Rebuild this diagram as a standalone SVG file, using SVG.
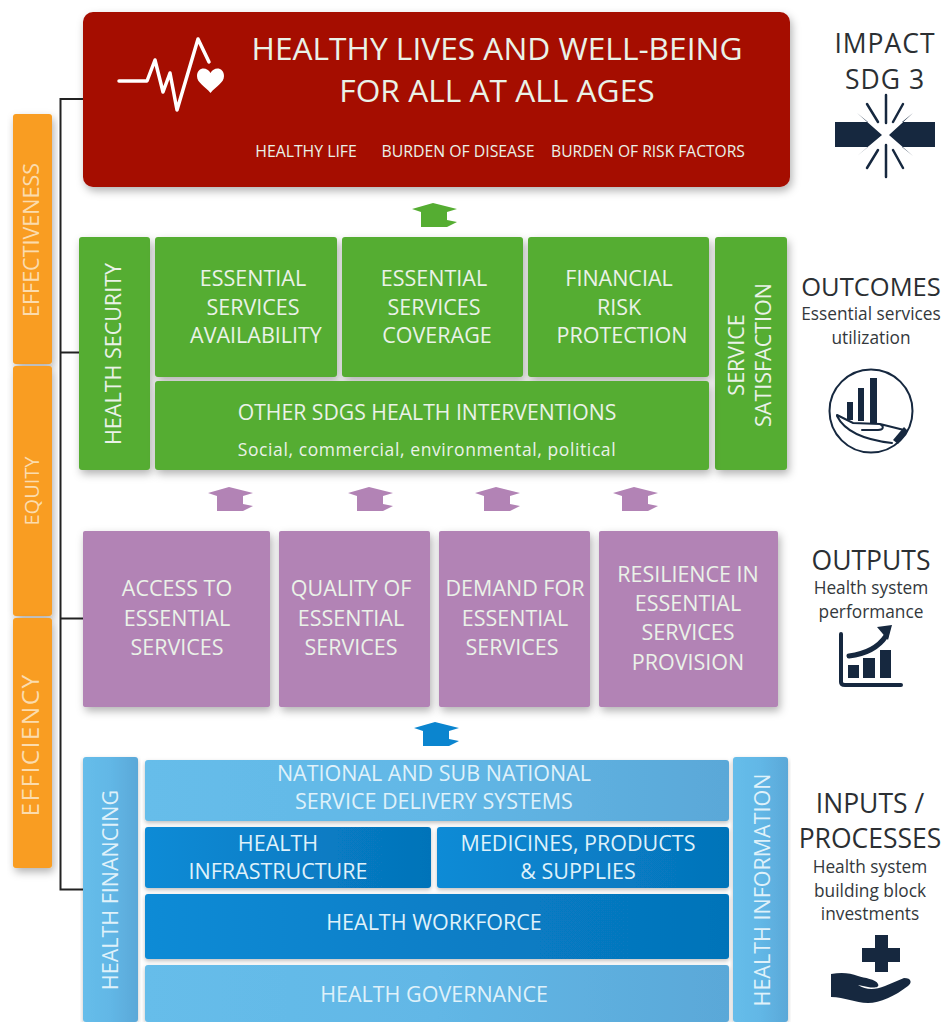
<svg xmlns="http://www.w3.org/2000/svg" width="946" height="1022" viewBox="0 0 946 1022">
<style>
text{font-family:"Open Sans","Liberation Sans",sans-serif;text-anchor:middle}
.w{fill:#eaf2e8;font-size:21.5px}
.wo{fill:#fbdcae;font-size:21.5px}
.wb{fill:#dff1fa;font-size:21.5px}
.l{fill:#2b2f33;font-size:26.5px}
.s{fill:#33383c;font-size:17.3px}
.ic{fill:#16283f}
.il{fill:none;stroke:#16283f;stroke-linecap:round}
.or{fill:#f99d20;filter:url(#sh)}
.gr{fill:#55ad32;filter:url(#sh)}
.pu{fill:#b283b5;filter:url(#sh)}
.dk{fill:url(#bd);filter:url(#sh2)}
.lt{fill:url(#bl);filter:url(#sh2)}
</style>
<defs>
<filter id="sh" x="-15%" y="-15%" width="130%" height="130%"><feDropShadow dx="2" dy="4" stdDeviation="4" flood-color="#000" flood-opacity=".3"/></filter>
<filter id="sh2" x="-5%" y="-15%" width="110%" height="130%"><feDropShadow dx="0" dy="2" stdDeviation="2" flood-color="#000" flood-opacity=".25"/></filter>
<linearGradient id="bl"><stop offset="0" stop-color="#66bdea"/><stop offset=".5" stop-color="#62b7e6"/><stop offset="1" stop-color="#5aa8d8"/></linearGradient>
<linearGradient id="bd"><stop offset="0" stop-color="#0b8bd6"/><stop offset="1" stop-color="#0573b9"/></linearGradient>
<path id="arr" d="M-22 -8 L-1 -14 L23 -8 L13 -5 L13 3 L23 5 L13 10 L-13 10 L-13 -5Z"/>
</defs>

<g id="connectors" fill="none" stroke="#222" stroke-width="2">
<path d="M83 99H60.500V889.500H83"/>
<path d="M60 352.500H79"/>
<path d="M60 618.500H83"/>
</g>

<g id="axis-effectiveness"><rect class="or" x="13" y="114" width="39" height="250" rx="3"/><text class="wo" transform="translate(39 240) rotate(-90)">EFFECTIVENESS</text></g>
<g id="axis-equity"><rect class="or" x="13" y="366" width="39" height="250" rx="3"/><text class="wo" style="font-size:20px" transform="translate(39 491) rotate(-90)">EQUITY</text></g>
<g id="axis-efficiency"><rect class="or" x="13" y="618" width="39" height="250" rx="3"/><text class="wo" style="font-size:24.500px;letter-spacing:1.400px" transform="translate(39 745) rotate(-90)">EFFICIENCY</text></g>

<g id="impact">
<rect x="83" y="12" width="707" height="175" rx="10" fill="#a50a05" filter="url(#sh)"/>
<path d="M119 81H147L155 60L163 92L170 73L177 110L198 39L209 62" fill="none" stroke="#fff" stroke-width="3.500" stroke-linejoin="round" stroke-linecap="round"/>
<path d="M210.500 93C205 86 197 83 197 76C197 67 207 66 210.500 73C214 66 224 67 224 76C224 83 216 86 210.500 93Z" fill="#fff"/>
<text class="w" x="497" y="60" style="font-size:31.700px">HEALTHY LIVES AND WELL-BEING</text>
<text class="w" x="497" y="102" style="font-size:31.700px">FOR ALL AT ALL AGES</text>
<text class="w" x="306" y="157" style="font-size:15.800px">HEALTHY LIFE</text>
<text class="w" x="458" y="157" style="font-size:15.800px">BURDEN OF DISEASE</text>
<text class="w" x="648" y="157" style="font-size:15.600px">BURDEN OF RISK FACTORS</text>
</g>

<g id="arrow-green" fill="#55ad32"><use href="#arr" x="434" y="217"/></g>

<g id="health-security"><rect class="gr" x="79" y="237" width="71" height="233" rx="3"/><text class="w" transform="translate(121 354) rotate(-90)">HEALTH SECURITY</text></g>
<g id="availability"><rect class="gr" x="155" y="237" width="182" height="140" rx="3"/><text class="w" x="253" y="286">ESSENTIAL</text><text class="w" x="253" y="315">SERVICES</text><text class="w" x="256" y="343">AVAILABILITY</text></g>
<g id="coverage"><rect class="gr" x="342" y="237" width="181" height="140" rx="3"/><text class="w" x="434" y="286">ESSENTIAL</text><text class="w" x="434" y="315">SERVICES</text><text class="w" x="437" y="343">COVERAGE</text></g>
<g id="risk"><rect class="gr" x="528" y="237" width="181" height="140" rx="3"/><text class="w" x="619" y="286">FINANCIAL</text><text class="w" x="619" y="315">RISK</text><text class="w" x="622" y="343">PROTECTION</text></g>
<g id="satisfaction"><rect class="gr" x="715" y="237" width="72" height="233" rx="3"/><text class="w" transform="translate(744 355) rotate(-90)">SERVICE</text><text class="w" transform="translate(771 355) rotate(-90)">SATISFACTION</text></g>
<g id="other-sdgs"><rect class="gr" x="155" y="381" width="554" height="89" rx="3"/><text class="w" x="427" y="420" style="font-size:21.200px">OTHER SDGS HEALTH INTERVENTIONS</text><text class="w" x="427" y="456" style="font-size:17.500px;letter-spacing:.6px">Social, commercial, environmental, political</text></g>

<g id="arrows-purple" fill="#b283b5"><use href="#arr" x="230" y="501"/><use href="#arr" x="370" y="501"/><use href="#arr" x="497" y="501"/><use href="#arr" x="635" y="501"/></g>

<g id="access"><rect class="pu" x="83" y="531" width="187" height="176" rx="2"/><text class="w" x="177" y="596">ACCESS TO</text><text class="w" x="177" y="626">ESSENTIAL</text><text class="w" x="177" y="655">SERVICES</text></g>
<g id="quality"><rect class="pu" x="279" y="531" width="151" height="176" rx="2"/><text class="w" x="351" y="596">QUALITY OF</text><text class="w" x="351" y="626">ESSENTIAL</text><text class="w" x="351" y="655">SERVICES</text></g>
<g id="demand"><rect class="pu" x="439" y="531" width="151" height="176" rx="2"/><text class="w" x="515" y="596">DEMAND FOR</text><text class="w" x="515" y="626">ESSENTIAL</text><text class="w" x="512" y="655">SERVICES</text></g>
<g id="resilience"><rect class="pu" x="599" y="531" width="179" height="176" rx="2"/><text class="w" x="688" y="582">RESILIENCE IN</text><text class="w" x="688" y="611">ESSENTIAL</text><text class="w" x="688" y="640">SERVICES</text><text class="w" x="688" y="670">PROVISION</text></g>

<g id="arrow-blue" fill="#0b85cf"><use href="#arr" x="436" y="736"/></g>

<g id="financing"><rect class="lt" x="83" y="757" width="55" height="265" rx="3"/><text class="wb" transform="translate(118 890) rotate(-90)">HEALTH FINANCING</text></g>
<g id="delivery"><rect class="lt" x="145" y="760" width="584" height="61" rx="3"/><text class="wb" x="434" y="781">NATIONAL AND SUB NATIONAL</text><text class="wb" x="434" y="809">SERVICE DELIVERY SYSTEMS</text></g>
<g id="infrastructure"><rect class="dk" x="145" y="827" width="286" height="61" rx="3"/><text class="wb" x="278" y="851">HEALTH</text><text class="wb" x="278" y="879">INFRASTRUCTURE</text></g>
<g id="medicines"><rect class="dk" x="437" y="827" width="292" height="61" rx="3"/><text class="wb" x="578" y="851">MEDICINES, PRODUCTS</text><text class="wb" x="578" y="879">&amp; SUPPLIES</text></g>
<g id="workforce"><rect class="dk" x="145" y="894" width="584" height="65" rx="3"/><text class="wb" x="434" y="930">HEALTH WORKFORCE</text></g>
<g id="governance"><rect class="lt" x="145" y="965" width="584" height="57" rx="3"/><text class="wb" x="434" y="1002">HEALTH GOVERNANCE</text></g>
<g id="information"><rect class="lt" x="733" y="757" width="55" height="265" rx="3"/><text class="wb" transform="translate(770 890) rotate(-90)">HEALTH INFORMATION</text></g>

<g id="label-impact">
<text class="l" x="885" y="53" style="letter-spacing:1px">IMPACT</text><text class="l" x="885" y="89" style="letter-spacing:1px">SDG 3</text>
<path class="ic" d="M835 122H868L857 113L882 135L857 156L868 147H835Z"/>
<path class="ic" d="M935 122H902L913 113L889 135L913 156L902 147H935Z"/>
<path class="il" stroke-width="2.500" d="M886 95V123M886 145V177M867 104L878 122M903 104L893 122M867 168L878 150M903 168L893 150"/>
</g>
<g id="label-outcomes">
<text class="l" x="871" y="296" style="font-size:25.500px">OUTCOMES</text><text class="s" x="871" y="320">Essential services</text><text class="s" x="871" y="344">utilization</text>
<circle cx="871" cy="411" r="41.500" fill="none" stroke="#16283f" stroke-width="2"/>
<path class="ic" d="M847 402H853V420H847ZM858 388H864V421H858ZM870 378H877V423H870Z"/>
<path class="il" stroke-width="2" d="M837 415L853 423L880 424C884 426 884 430 878 430H862M837 416C845 432 865 440 892 443M880 424L904 430"/>
<path class="ic" d="M893 440L904 427L908 431L898 444Z"/>
</g>
<g id="label-outputs">
<text class="l" x="871" y="570">OUTPUTS</text><text class="s" x="871" y="594">Health system</text><text class="s" x="871" y="618">performance</text>
<path class="il" stroke-width="4" d="M841 634V682Q841 685 845 685H901"/>
<path class="il" stroke-width="5" d="M849 656C865 654 878 648 886 636"/>
<path class="ic" d="M877 627L892 625L888 640Z"/>
<path class="ic" d="M848 665H859V678H848ZM863 658H875V678H863ZM880 650H891V678H880Z"/>
</g>
<g id="label-inputs">
<text class="l" x="870" y="813">INPUTS /</text><text class="l" x="870" y="848">PROCESSES</text><text class="s" x="870" y="873">Health system</text><text class="s" x="870" y="897">building block</text><text class="s" x="870" y="920">investments</text>
<path class="ic" d="M875 935H888V948H900V962H888V972H875V962H862V948H875Z"/>
<path class="ic" d="M831 974C842 972 850 973 858 976C864 978 876 979 878 984C880 988 873 988 868 987L858 985C866 990 875 990 885 986L904 978C912 978 912 983 908 986C895 996 880 1003 868 1003C855 1003 845 997 831 997Z"/>
</g>
</svg>
